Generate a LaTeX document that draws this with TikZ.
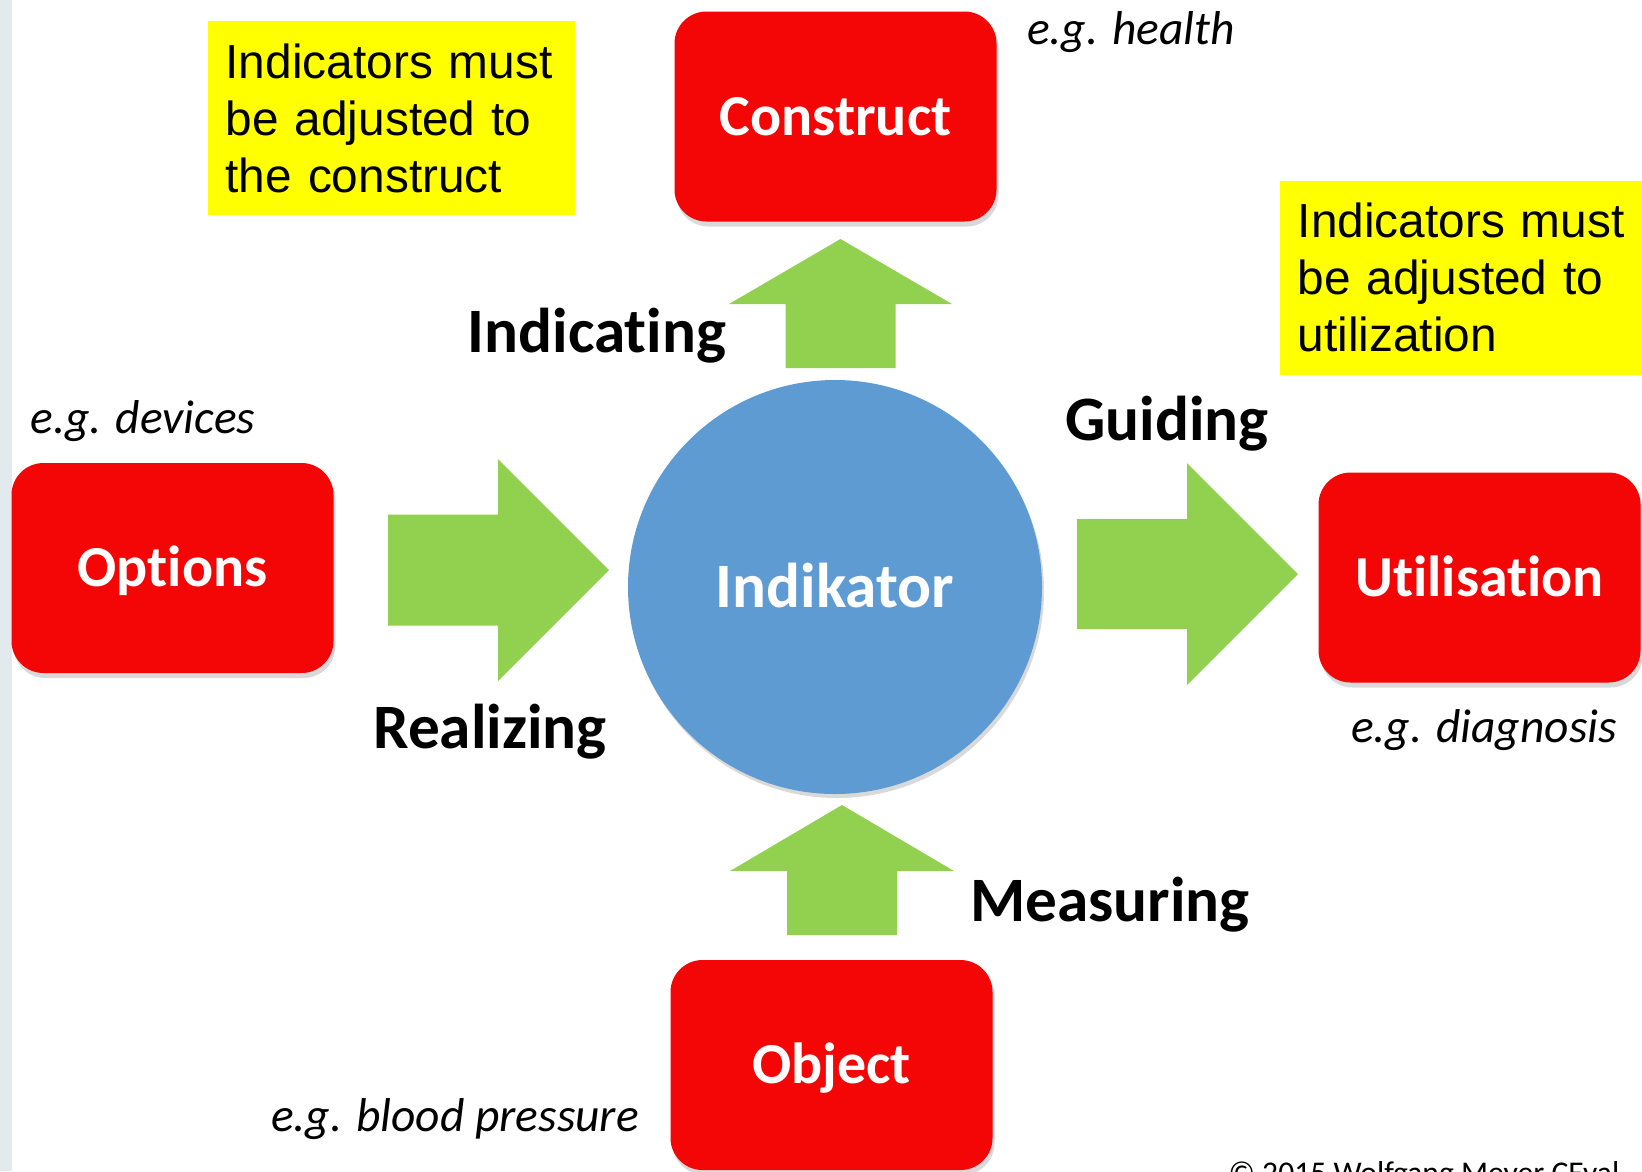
\documentclass[tikz,border=0pt]{standalone}
\usepackage{fontspec}
\setmainfont{Carlito}[RawFeature={-liga;-clig;-calt;-dlig}]
\newfontfamily\arialfont{Liberation Sans}
\usepackage{tikz}
\usetikzlibrary{shadows}

\definecolor{boxred}{RGB}{244,6,6}
\definecolor{arrowgreen}{RGB}{146,208,80}
\definecolor{ballblue}{RGB}{94,155,211}
\definecolor{notebg}{RGB}{255,255,0}
\definecolor{stripgray}{RGB}{227,234,238}

\begin{document}
\begin{tikzpicture}[
    redbox/.style={rectangle,rounded corners=0.32cm,fill=boxred,text=white,
        minimum width=3.22cm,minimum height=2.1cm,inner sep=0pt,
        text height=0.37cm,text depth=0pt,
        font=\fontsize{16.5pt}{19pt}\selectfont\bfseries,
        drop shadow={opacity=0.3,shadow xshift=0.02cm,shadow yshift=-0.05cm}},
    ball/.style={circle,fill=ballblue,text=white,minimum size=4.14cm,inner sep=0pt,
        text height=0.40cm,text depth=0pt,
        font=\fontsize{18pt}{21pt}\selectfont\bfseries,
        drop shadow={opacity=0.3,shadow xshift=0.02cm,shadow yshift=-0.04cm}},
    verb/.style={anchor=base,inner sep=0pt,font=\fontsize{18pt}{21pt}\selectfont\bfseries},
    example/.style={anchor=base,inner sep=0pt,font=\fontsize{13.5pt}{16pt}\selectfont\itshape},
    note/.style={rectangle,fill=notebg,align=left,inner xsep=0.18cm,inner ysep=0pt,
        minimum height=1.94cm,font=\arialfont\fontsize{13.6pt}{16.2pt}\selectfont},
    blockarrow/.style={fill=arrowgreen}
  ]

  \useasboundingbox (0,0) rectangle (16.42,-11.71);
  \fill[stripgray] (0,0) rectangle (0.12,-11.71);

  % notes
  \node[note,text width=3.31cm,anchor=west] (note_construct) at (2.07,-1.18)
      {Indicators must\\be adjusted to\\the construct};
  \node[note,text width=3.4cm,anchor=west] (note_use) at (12.79,-2.775)
      {Indicators must\\be adjusted to\\utilization};

  % boxes and hub
  \node[ball] (indikator) at (8.35,-5.87) {Indikator};
  \node[redbox] (construct) at (8.355,-1.165) {Construct};
  \node[redbox] (options) at (1.725,-5.68) {Options};
  \node[redbox] (utilisation) at (14.795,-5.775) {Utilisation};
  \node[redbox] (object) at (8.315,-10.65) {Object};

  % block arrows
  \fill[blockarrow] (3.88,-5.145) -- (4.98,-5.145) -- (4.98,-4.59) -- (6.09,-5.70)
      -- (4.98,-6.81) -- (4.98,-6.255) -- (3.88,-6.255) -- cycle;
  \fill[blockarrow] (10.77,-5.19) -- (11.87,-5.19) -- (11.87,-4.63) -- (12.98,-5.74)
      -- (11.87,-6.85) -- (11.87,-6.29) -- (10.77,-6.29) -- cycle;
  \fill[blockarrow] (7.855,-3.68) -- (7.855,-3.04) -- (7.29,-3.04) -- (8.405,-2.39)
      -- (9.52,-3.04) -- (8.955,-3.04) -- (8.955,-3.68) -- cycle;
  \fill[blockarrow] (7.87,-9.35) -- (7.87,-8.71) -- (7.30,-8.71) -- (8.42,-8.05)
      -- (9.54,-8.71) -- (8.97,-8.71) -- (8.97,-9.35) -- cycle;

  % verbs
  \node[verb] (indicating) at (5.97,-3.52) {Indicating};
  \node[verb] (guiding) at (11.67,-4.40) {Guiding};
  \node[verb] (realizing) at (4.90,-7.48) {Realizing};
  \node[verb] (measuring) at (11.10,-9.21) {Measuring};

  % examples
  \node[example] (eg_health) at (11.31,-0.44) {e.g. health};
  \node[example] (eg_devices) at (1.43,-4.33) {e.g. devices};
  \node[example] (eg_diagnosis) at (14.84,-7.42) {e.g. diagnosis};
  \node[example] (eg_pressure) at (4.55,-11.31) {e.g. blood pressure};

  \node[anchor=base west,inner sep=0pt,font=\fontsize{9pt}{11pt}\selectfont]
      (copyright) at (12.28,-11.83) {© 2015 Wolfgang Meyer CEval};

\end{tikzpicture}
\end{document}
